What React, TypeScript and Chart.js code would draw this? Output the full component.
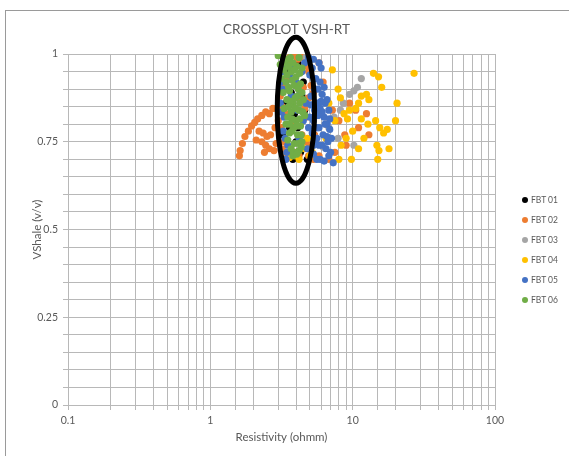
import React, { useEffect, useRef } from 'react';
import { Chart, registerables } from 'chart.js';

Chart.register(...registerables);

const seriesNames = ['FBT 01', 'FBT 02', 'FBT 03', 'FBT 04', 'FBT 05', 'FBT 06'];
const seriesColors = ['#000000', '#ED7D31', '#A5A5A5', '#FFC000', '#4472C4', '#70AD47'];

const fbt01: [number, number][] = [
  [4.8, 0.983], [4.0, 0.91], [3.6, 0.95], [4.2, 0.97], [3.4, 0.86], [3.9, 0.83], [4.4, 0.88],
  [3.2, 0.77], [3.6, 0.79], [4.0, 0.75], [4.3, 0.72], [3.8, 0.7], [4.8, 0.7], [4.1, 0.79],
  [4.5, 0.92], [3.7, 0.89], [4.6, 0.84],
];

const fbt02: [number, number][] = [
  [1.6, 0.71], [1.62, 0.725], [1.68, 0.745], [1.75, 0.765], [1.85, 0.78], [1.95, 0.795],
  [2.05, 0.805], [2.15, 0.815], [2.3, 0.825], [2.45, 0.835], [2.6, 0.83], [2.75, 0.845],
  [2.2, 0.78], [2.35, 0.775], [2.5, 0.765], [2.65, 0.77], [2.3, 0.75], [2.45, 0.74],
  [2.6, 0.73], [2.8, 0.725], [2.9, 0.745], [2.85, 0.79], [3.0, 0.81], [2.4, 0.72], [2.1, 0.755],
  [3.3, 0.98], [3.6, 0.99], [4.1, 0.985], [4.6, 0.97], [3.4, 0.93], [4.9, 0.95], [3.5, 0.9],
  [4.3, 0.87], [3.2, 0.85], [4.7, 0.82], [3.8, 0.8], [4.4, 0.77], [5.0, 0.74], [3.6, 0.72],
  [4.2, 0.71], [5.3, 0.7], [3.1, 0.88], [5.1, 0.91],
  [3.2, 0.995], [3.9, 0.995], [4.4, 0.99], [5.0, 0.985], [3.7, 0.97], [4.8, 0.965], [3.3, 0.91],
  [4.5, 0.905], [3.1, 0.9], [4.9, 0.875], [3.4, 0.83], [4.6, 0.845], [3.15, 0.79], [3.3, 0.75],
  [4.7, 0.75], [3.5, 0.71], [4.9, 0.71], [5.4, 0.77], [5.6, 0.83], [5.3, 0.89], [3.2, 0.73],
  [4.0, 0.72], [5.8, 0.975],
  [6.5, 0.8], [7.2, 0.84], [8.0, 0.81], [8.8, 0.77], [9.5, 0.86], [11, 0.79], [12.5, 0.83],
  [13, 0.77], [7.5, 0.72], [6.8, 0.7], [9, 0.74], [5.8, 0.71], [10.5, 0.84], [6.2, 0.92],
];

const fbt03: [number, number][] = [
  [11.5, 0.93], [10.8, 0.905], [10.2, 0.895], [9.5, 0.885], [8.6, 0.86], [8.2, 0.84],
  [7.4, 0.82], [6.8, 0.79], [7.9, 0.76], [10.2, 0.74], [6.2, 0.735], [4.7, 0.99], [5.5, 0.86],
];

const fbt04: [number, number][] = [
  [27, 0.945], [14, 0.945], [15.2, 0.935], [16, 0.905], [20.5, 0.86], [13, 0.87], [12.5, 0.885],
  [11.5, 0.88], [11, 0.86], [10.5, 0.845], [9.5, 0.84], [8.7, 0.83], [9.2, 0.815], [7.2, 0.955],
  [7.9, 0.9], [8.2, 0.875], [11.5, 0.815], [12.8, 0.8], [14.5, 0.81], [15.5, 0.79], [16.5, 0.775],
  [17.5, 0.785], [14.8, 0.74], [15.3, 0.725], [15, 0.7], [10, 0.78], [9, 0.76], [8.3, 0.74],
  [11, 0.73], [9.8, 0.7], [5.5, 0.745], [4.6, 0.73], [5.0, 0.71], [6.0, 0.83], [6.8, 0.86],
  [7.5, 0.81], [12, 0.76], [18, 0.73], [20, 0.81], [4.2, 0.7], [8, 0.7], [6.5, 0.76],
  [3.9, 0.71], [4.4, 0.735], [3.6, 0.705], [4.8, 0.76], [5.2, 0.72],
];

const fbt05: [number, number][] = [
  [3.3, 0.97], [3.6, 0.94], [4.9, 0.99], [5.2, 0.96], [5.5, 0.93], [5.7, 0.9], [6.1, 0.885],
  [6.4, 0.86], [5.9, 0.845], [6.3, 0.82], [6.6, 0.8], [6.9, 0.785], [6.2, 0.77], [5.6, 0.76],
  [5.8, 0.74], [6.5, 0.73], [7.0, 0.72], [5.3, 0.715], [5.9, 0.7], [3.2, 0.9], [3.1, 0.86],
  [3.3, 0.82], [3.25, 0.78], [3.5, 0.74], [3.4, 0.7], [4.0, 0.92], [4.3, 0.89], [4.7, 0.86],
  [4.1, 0.84], [4.5, 0.81], [4.9, 0.79], [4.2, 0.76], [4.8, 0.73], [5.1, 0.88], [5.4, 0.84],
  [5.0, 0.82], [3.8, 0.965], [4.4, 0.95], [5.6, 0.79], [6.7, 0.75], [7.3, 0.69], [3.7, 0.88],
  [6.0, 0.96],
  [5.3, 0.985], [5.8, 0.975], [4.6, 0.975], [5.0, 0.94], [5.9, 0.92], [6.3, 0.905], [5.4, 0.9],
  [6.6, 0.87], [6.0, 0.865], [5.6, 0.86], [6.8, 0.84], [6.1, 0.835], [5.7, 0.825], [6.9, 0.815],
  [5.3, 0.81], [6.4, 0.8], [5.8, 0.79], [5.2, 0.775], [6.6, 0.765], [7.1, 0.76], [5.5, 0.745],
  [6.1, 0.74], [6.8, 0.71], [5.6, 0.7], [6.3, 0.695], [3.2, 0.95], [3.15, 0.835], [3.35, 0.76],
  [3.45, 0.72], [3.1, 0.92], [5.1, 0.855], [5.3, 0.74],
];

const fbt06: [number, number][] = [
  [3.0, 0.995], [3.1, 0.97], [3.5, 0.985], [4.2, 0.99], [3.3, 0.955], [3.7, 0.95], [4.0, 0.935],
  [4.4, 0.96], [3.4, 0.92], [3.9, 0.91], [4.3, 0.915], [3.6, 0.895], [4.1, 0.88], [3.45, 0.87],
  [3.8, 0.86], [4.5, 0.87], [3.3, 0.845], [3.7, 0.835], [4.2, 0.84], [3.5, 0.82], [4.0, 0.81],
  [4.6, 0.825], [3.4, 0.8], [3.85, 0.79], [4.3, 0.795], [3.6, 0.775], [4.1, 0.77],
  [3.5, 0.755], [3.9, 0.745], [4.4, 0.75], [3.7, 0.73], [4.2, 0.725], [3.8, 0.71],
  [3.25, 0.89], [3.15, 0.93], [4.05, 0.965], [3.65, 0.99],
  [3.35, 0.975], [3.8, 0.975], [3.55, 0.965], [4.25, 0.945], [3.9, 0.955],
  [3.45, 0.94], [3.75, 0.925], [4.15, 0.9], [3.55, 0.905], [4.4, 0.89],
  [3.95, 0.875], [3.65, 0.865], [4.25, 0.86], [3.55, 0.85], [3.95, 0.845],
  [4.45, 0.835], [3.75, 0.815], [4.25, 0.815], [3.6, 0.8], [4.05, 0.795],
  [3.75, 0.78], [4.35, 0.77], [4.15, 0.745], [3.85, 0.72], [4.35, 0.735], [4.05, 0.715],
];

const seriesData = [fbt01, fbt02, fbt03, fbt04, fbt05, fbt06];

const xTickValues = [0.1, 1, 10, 100];
const xTickLabels = ['0.1', '1', '10', '100'];
const yTickValues = [0, 0.25, 0.5, 0.75, 1];
const yTickLabels = ['0', '0.25', '0.5', '0.75', '1'];

// hand-drawn highlight ellipse, in data units
const highlightX = [2.95, 5.4];
const highlightY = [0.632, 1.048];

const FONT = "Lato, 'Open Sans', sans-serif";
const TEXT = '#595959';
const GRID = '#b8b8b8';

const ellipsePlugin = {
  id: 'highlightEllipse',
  afterDatasetsDraw(chart: any) {
    const xs = chart.scales.x;
    const ys = chart.scales.y;
    const x0 = xs.getPixelForValue(highlightX[0]);
    const x1 = xs.getPixelForValue(highlightX[1]);
    const y0 = ys.getPixelForValue(highlightY[0]);
    const y1 = ys.getPixelForValue(highlightY[1]);
    const ctx = chart.ctx;
    ctx.save();
    ctx.beginPath();
    ctx.ellipse((x0 + x1) / 2, (y0 + y1) / 2, Math.abs(x1 - x0) / 2, Math.abs(y1 - y0) / 2, 0, 0, Math.PI * 2);
    ctx.lineWidth = 5;
    ctx.strokeStyle = '#000000';
    ctx.stroke();
    ctx.restore();
  },
};

export default function App() {
  const canvasRef = useRef<HTMLCanvasElement>(null);

  useEffect(() => {
    if (!canvasRef.current) return;
    const chart = new Chart(canvasRef.current, {
      type: 'scatter',
      data: {
        datasets: seriesData.map((pts, i) => ({
          label: seriesNames[i],
          data: pts.map(([x, y]) => ({ x, y })),
          backgroundColor: seriesColors[i],
          borderColor: seriesColors[i],
          borderWidth: 0,
          pointRadius: 3.6,
          pointHoverRadius: 3.6,
          order: seriesData.length - 1 - i,
        })),
      },
      options: {
        responsive: false,
        animation: false,
        events: [],
        layout: { padding: { left: 4, right: 0, top: 0, bottom: 0 } },
        plugins: {
          legend: { display: false },
          tooltip: { enabled: false },
          title: {
            display: true,
            text: 'CROSSPLOT VSH-RT',
            color: TEXT,
            font: { family: FONT, size: 13.5, weight: 'normal' },
            padding: { top: 21.9, bottom: 15.9 },
          },
        },
        scales: {
          x: {
            type: 'logarithmic',
            min: 0.1,
            max: 100,
            afterFit: (s: any) => { s.height = 51; },
            grid: { color: GRID, tickLength: 5, tickColor: GRID },
            border: { color: GRID },
            ticks: {
              autoSkip: false,
              maxRotation: 0,
              padding: 4,
              color: TEXT,
              font: { family: FONT, size: 10.5 },
              callback: (v: any) => {
                const idx = xTickValues.findIndex((t) => Math.abs(Math.log10(Number(v)) - Math.log10(t)) < 1e-6);
                return idx >= 0 ? xTickLabels[idx] : '';
              },
            },
            title: {
              display: true,
              text: 'Resistivity (ohmm)',
              color: TEXT,
              font: { family: FONT, size: 11.5 },
              padding: { top: 0, bottom: 12 },
            },
          },
          y: {
            type: 'linear',
            min: 0,
            max: 1,
            afterFit: (s: any) => { s.width = 64; },
            grid: { color: GRID, tickLength: 5, tickColor: GRID },
            border: { color: GRID },
            ticks: {
              stepSize: 0.05,
              autoSkip: false,
              padding: 5,
              color: TEXT,
              font: { family: FONT, size: 10.5 },
              callback: (v: any) => {
                const idx = yTickValues.findIndex((t) => Math.abs(Number(v) - t) < 1e-6);
                return idx >= 0 ? yTickLabels[idx] : '';
              },
            },
            title: {
              display: true,
              text: 'VShale (v/v)',
              color: TEXT,
              font: { family: FONT, size: 11.5 },
              padding: { top: 26, bottom: 0 },
            },
          },
          spacer: {
            type: 'linear',
            position: 'right',
            display: true,
            afterFit: (s: any) => { s.width = 74; },
            grid: { display: false, drawOnChartArea: false },
            border: { display: false },
            ticks: { display: false },
          },
        },
      },
      plugins: [ellipsePlugin],
    } as any);
    return () => chart.destroy();
  }, []);

  return (
    <div style={{ position: 'absolute', left: 0, top: 0, width: 569, height: 456, background: '#ffffff', overflow: 'hidden' }}>
      <div style={{ position: 'absolute', left: 5, top: 10, width: 570, height: 470, border: '1px solid #9a9a9a', boxSizing: 'border-box' }} />
      <canvas ref={canvasRef} width={569} height={456} style={{ position: 'absolute', left: 0, top: 0, width: 569, height: 456 }} />
      <div style={{ position: 'absolute', left: 522, top: 190, fontFamily: FONT, fontSize: 8.5, color: TEXT }}>
        {seriesNames.map((name, i) => (
          <div key={name} style={{ display: 'flex', alignItems: 'center', height: 20 }}>
            <span style={{ display: 'inline-block', width: 6, height: 6, borderRadius: 3, background: seriesColors[i], marginRight: 3 }} />
            <span>{name}</span>
          </div>
        ))}
      </div>
    </div>
  );
}
